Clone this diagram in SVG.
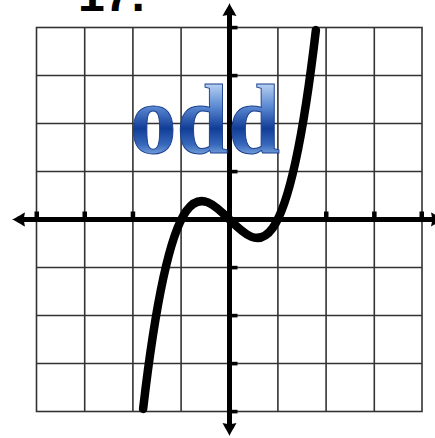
<svg xmlns="http://www.w3.org/2000/svg" width="435" height="438" viewBox="0 0 435 438">
  <defs>
    <style>
      .grid { stroke: #333; stroke-width: 1.6; fill: none; }
      .axis { stroke: #000; stroke-width: 5; fill: none; }
      .tick { fill: #000; }
      .arrow { fill: #000; }
      .curve { stroke: #000; stroke-width: 8.5; fill: none; stroke-linecap: round; }
      .num { font-family: "Liberation Sans", Arial, sans-serif; font-weight: bold; font-size: 48px; fill: #000; }
      .odd { font-family: "Liberation Serif", "Times New Roman", serif; font-weight: bold; font-size: 99px; fill: url(#blueGrad); stroke: #1b3f8c; stroke-width: 1; }
    </style>
    <linearGradient id="blueGrad" x1="0" y1="85" x2="0" y2="155" gradientUnits="userSpaceOnUse">
      <stop offset="0" stop-color="#b4cdf0"/>
      <stop offset="0.3" stop-color="#5d8bd4"/>
      <stop offset="0.62" stop-color="#113d97"/>
      <stop offset="0.85" stop-color="#3768bb"/>
      <stop offset="1" stop-color="#78a2dc"/>
    </linearGradient>
    <path id="arrowUp" d="M0,0 C1.5,4 4,7 7,13 L2,12 L0,15 L-2,12 L-7,13 C-4,7 -1.5,4 0,0 Z"/>
  </defs>

  <g id="title">
    <text class="num" x="78" y="11">17.</text>
  </g>

  <g id="grid">
    <rect class="grid" x="36.5" y="27.5" width="385.5" height="384"/>
    <path class="grid" d="M84.7,27.5V411.5 M132.9,27.5V411.5 M181.1,27.5V411.5 M277.9,27.5V411.5 M326.1,27.5V411.5 M374.3,27.5V411.5
      M36.5,75.5H422 M36.5,123.5H422 M36.5,171.5H422 M36.5,267.5H422 M36.5,315.5H422 M36.5,363.5H422"/>
  </g>

  <g id="axes">
    <line class="axis" x1="24" y1="219.5" x2="440" y2="219.5"/>
    <line class="axis" x1="229.5" y1="14" x2="229.5" y2="425"/>
    <g class="tick">
      <rect x="34.5" y="211.5" width="4.5" height="8"/>
      <rect x="82.5" y="211.5" width="4.5" height="8"/>
      <rect x="130.7" y="211.5" width="4.5" height="8"/>
      <rect x="324" y="211.5" width="4.5" height="8"/>
      <rect x="372.1" y="211.5" width="4.5" height="8"/>
      <rect x="419.5" y="211.5" width="4.5" height="8"/>
      <rect x="229.5" y="25.8" width="8" height="3.6"/>
      <rect x="229.5" y="73.8" width="8" height="3.6"/>
      <rect x="229.5" y="121.8" width="8" height="3.6"/>
      <rect x="229.5" y="169.8" width="8" height="3.6"/>
      <rect x="229.5" y="265.8" width="8" height="3.6"/>
      <rect x="229.5" y="313.8" width="8" height="3.6"/>
      <rect x="229.5" y="361.8" width="8" height="3.6"/>
      <rect x="229.5" y="409.8" width="8" height="3.6"/>
    </g>
    <use href="#arrowUp" class="arrow" transform="translate(229.5,3)"/>
    <use href="#arrowUp" class="arrow" transform="translate(229.5,436) rotate(180)"/>
    <use href="#arrowUp" class="arrow" transform="translate(12,219.5) rotate(-90)"/>
    <use href="#arrowUp" class="arrow" transform="translate(444,219.5) rotate(90)"/>
  </g>

  <g id="connectors">
    <path class="curve" d="M143.1,408.9 C200.7,-84.4 258.3,523.4 315.9,30.1"/>
  </g>

  <g id="label-odd">
    <text class="odd" x="130" y="153" textLength="150" lengthAdjust="spacingAndGlyphs">odd</text>
  </g>
</svg>
